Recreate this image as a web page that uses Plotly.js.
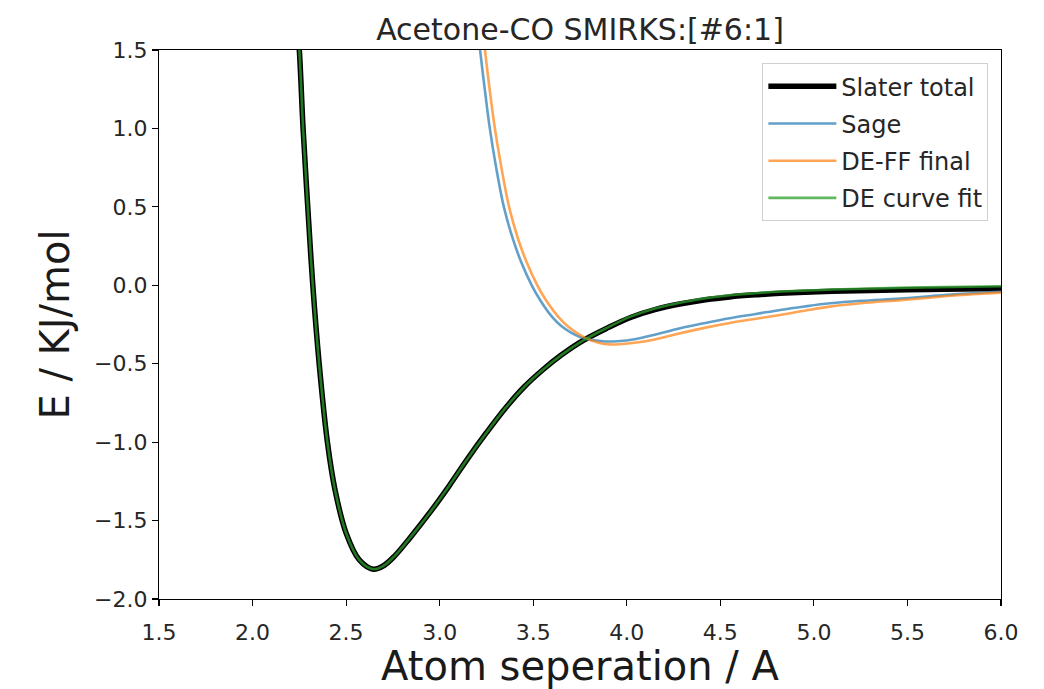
<!DOCTYPE html>
<html>
<head>
<meta charset="utf-8">
<script src="https://cdn.plot.ly/plotly-3.0.1.min.js"></script>
<style>html,body{margin:0;padding:0;background:#fff;}#chart{width:1044px;height:689px;}</style>
</head>
<body>
<div id="chart"></div>
<script>
// Slater total (black)
var slaterX = [2.225, 2.25, 2.27, 2.295, 2.322, 2.356, 2.40, 2.44, 2.50, 2.57, 2.645, 2.70, 2.76, 2.84, 2.95, 3.05, 3.15, 3.25, 3.35, 3.45, 3.55, 3.65, 3.77, 3.90, 4.02, 4.15, 4.29, 4.42, 4.55, 4.70, 4.82, 5.10, 5.50, 6.00];
var slaterY = [1.90, 1.50, 1.00, 0.50, 0.00, -0.50, -1.00, -1.30, -1.58, -1.75, -1.81, -1.788, -1.725, -1.612, -1.445, -1.28, -1.105, -0.94, -0.785, -0.65, -0.54, -0.445, -0.35, -0.27, -0.205, -0.155, -0.118, -0.092, -0.074, -0.060, -0.051, -0.038, -0.028, -0.020];
// DE curve fit (green)
var fitX = [2.225, 2.25, 2.27, 2.295, 2.322, 2.356, 2.40, 2.44, 2.50, 2.57, 2.645, 2.70, 2.76, 2.84, 2.95, 3.05, 3.15, 3.25, 3.35, 3.45, 3.55, 3.65, 3.77, 3.90, 4.02, 4.15, 4.29, 4.42, 4.55, 4.70, 4.82, 5.10, 5.50, 6.00];
var fitY = [1.90, 1.50, 1.00, 0.50, 0.00, -0.50, -1.00, -1.30, -1.58, -1.75, -1.81, -1.788, -1.725, -1.612, -1.445, -1.28, -1.105, -0.94, -0.785, -0.65, -0.54, -0.445, -0.35, -0.268, -0.200, -0.148, -0.110, -0.083, -0.064, -0.049, -0.040, -0.027, -0.015, -0.006];
// Sage (blue)
var sageX = [3.19, 3.216, 3.241, 3.268, 3.302, 3.343, 3.39, 3.435, 3.492, 3.54, 3.60, 3.65, 3.70, 3.75, 3.81, 3.87, 3.93, 4.00, 4.08, 4.15, 4.285, 4.42, 4.55, 4.69, 4.82, 4.95, 5.086, 5.25, 5.46, 5.62, 5.75, 6.00];
var sageY = [1.80, 1.50, 1.25, 1.00, 0.75, 0.50, 0.30, 0.15, 0.00, -0.10, -0.20, -0.26, -0.30, -0.33, -0.348, -0.357, -0.358, -0.352, -0.335, -0.315, -0.274, -0.240, -0.210, -0.183, -0.157, -0.135, -0.115, -0.099, -0.085, -0.070, -0.058, -0.040];
// DE-FF final (orange)
var deffX = [3.215, 3.242, 3.267, 3.295, 3.33, 3.371, 3.418, 3.464, 3.522, 3.571, 3.633, 3.683, 3.728, 3.77, 3.82, 3.86, 3.91, 3.96, 4.03, 4.15, 4.285, 4.42, 4.55, 4.69, 4.82, 4.95, 5.086, 5.25, 5.46, 5.62, 5.75, 6.00];
var deffY = [1.80, 1.50, 1.25, 1.00, 0.75, 0.50, 0.30, 0.15, 0.00, -0.10, -0.20, -0.26, -0.30, -0.33, -0.355, -0.370, -0.377, -0.376, -0.368, -0.345, -0.306, -0.270, -0.240, -0.213, -0.189, -0.162, -0.136, -0.115, -0.095, -0.079, -0.065, -0.047];

var xTicks = [1.5, 2.0, 2.5, 3.0, 3.5, 4.0, 4.5, 5.0, 5.5, 6.0];
var xTickText = ['1.5', '2.0', '2.5', '3.0', '3.5', '4.0', '4.5', '5.0', '5.5', '6.0'];
var yTicks = [1.5, 1.0, 0.5, 0.0, -0.5, -1.0, -1.5, -2.0];
var yTickText = ['1.5', '1.0', '0.5', '0.0', '\u22120.5', '\u22121.0', '\u22121.5', '\u22122.0'];

var FONT = 'DejaVu Sans, sans-serif';

var traces = [
  {x: slaterX, y: slaterY, name: 'Slater total', legendgroup: 'a', mode: 'lines', line: {color: '#000000', width: 5.5, shape: 'spline', smoothing: 1}},
  {x: sageX, y: sageY, name: 'Sage', legendgroup: 'b', mode: 'lines', line: {color: 'rgba(31,119,180,0.7)', width: 2.6, shape: 'spline', smoothing: 1}},
  {x: deffX, y: deffY, name: 'DE-FF final', legendgroup: 'c', mode: 'lines', line: {color: 'rgba(255,127,14,0.7)', width: 2.6, shape: 'spline', smoothing: 1}},
  {x: fitX, y: fitY, name: 'DE curve fit', legendgroup: 'd', mode: 'lines', line: {color: 'rgba(44,160,44,0.75)', width: 2.6, shape: 'spline', smoothing: 1}}
];

var axisCommon = {
  showgrid: false, zeroline: false, showline: true, mirror: true,
  linecolor: '#000', linewidth: 1.2, ticks: 'outside', ticklen: 6, tickwidth: 1.2, tickcolor: '#000',
  tickfont: {family: FONT, size: 22, color: '#262626'}
};

var layout = {
  width: 1044, height: 689,
  margin: {l: 159, r: 43, t: 50, b: 90},
  paper_bgcolor: '#fff', plot_bgcolor: '#fff',
  title: {text: 'Acetone-CO SMIRKS:[#6:1]', font: {family: FONT, size: 30, color: '#262626'}, xref: 'paper', x: 0.5, xanchor: 'center', y: 0.957, yanchor: 'middle'},
  xaxis: Object.assign({}, axisCommon, {
    range: [1.5, 6.0], tickmode: 'array', tickvals: xTicks, ticktext: xTickText, ticklabelstandoff: 7,
    title: {text: 'Atom seperation / A', font: {family: FONT, size: 40, color: '#1a1a1a'}, standoff: 4}
  }),
  yaxis: Object.assign({}, axisCommon, {
    range: [-2.0, 1.5], tickmode: 'array', tickvals: yTicks, ticktext: yTickText, ticksuffix: '\u2009',
    title: {text: 'E / KJ/mol', font: {family: FONT, size: 40, color: '#1a1a1a'}, standoff: 12}
  }),
  showlegend: true,
  legend: {
    x: 0.985, xanchor: 'right', y: 0.976, yanchor: 'top',
    bgcolor: '#fff', bordercolor: '#d0d0d0', borderwidth: 1,
    font: {family: FONT, size: 24, color: '#262626'},
    itemwidth: 68, tracegroupgap: 3
  }
};

Plotly.newPlot('chart', traces, layout, {displayModeBar: false, staticPlot: true});
</script>
</body>
</html>
